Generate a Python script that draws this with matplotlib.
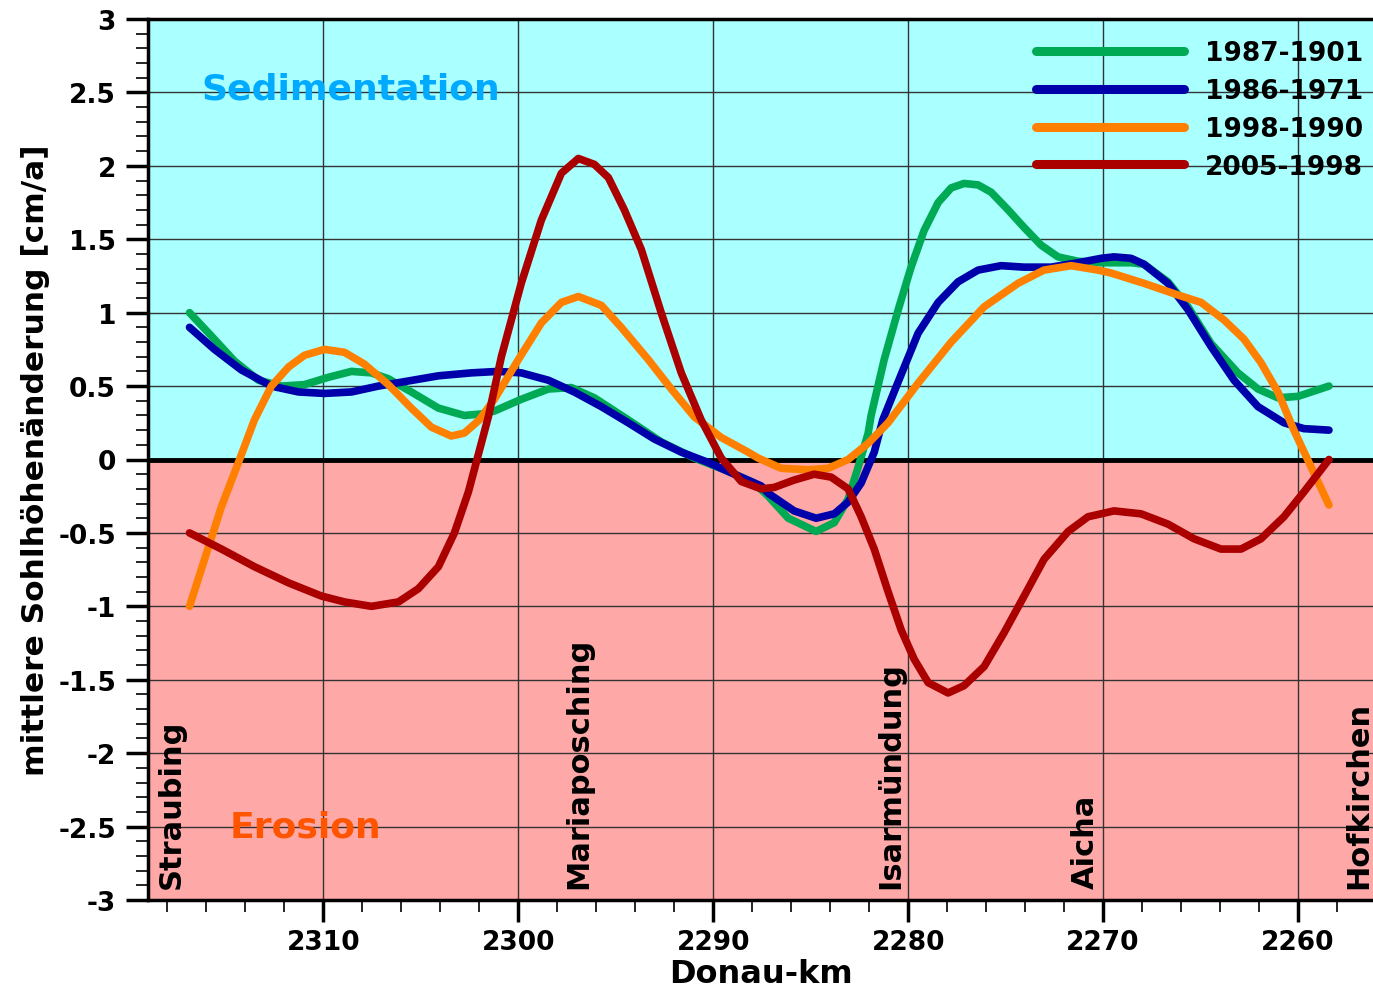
import matplotlib
matplotlib.use('Agg')
import matplotlib.pyplot as plt
from matplotlib.ticker import MultipleLocator, FormatStrFormatter

# Donau-km / mittlere Sohlhöhenänderung [cm/a]
km_g = [2316.87, 2315.74, 2314.56, 2313.33, 2312.15, 2310.97, 2309.74, 2308.56, 2307.54, 2306.67,
        2305.49, 2304.10, 2302.77, 2301.90, 2301.23, 2299.85, 2298.46, 2297.28, 2296.10, 2294.36,
        2292.67, 2290.97, 2289.23, 2287.90, 2287.18, 2286.15, 2284.72, 2283.79, 2283.08, 2282.56,
        2282.05, 2281.90, 2281.23, 2280.51, 2279.85, 2279.18, 2278.46, 2277.79, 2277.13, 2276.41,
        2275.74, 2274.87, 2274.05, 2273.18, 2272.31, 2271.28, 2270.10, 2268.56, 2267.90, 2266.67,
        2265.64, 2264.46, 2263.08, 2262.05, 2261.03, 2260.00, 2258.41]
v_g = [1.0, 0.84, 0.67, 0.54, 0.5, 0.51, 0.56, 0.6, 0.59, 0.55,
       0.46, 0.35, 0.30, 0.31, 0.33, 0.41, 0.48, 0.49, 0.42, 0.27,
       0.12, 0.01, -0.08, -0.16, -0.25, -0.4, -0.49, -0.43, -0.27, -0.05,
       0.18, 0.30, 0.68, 1.02, 1.31, 1.56, 1.75, 1.85, 1.88, 1.87,
       1.82, 1.70, 1.58, 1.46, 1.38, 1.35, 1.34, 1.34, 1.33, 1.21,
       1.04, 0.79, 0.59, 0.48, 0.42, 0.43, 0.5]

km_b = [2316.87, 2315.59, 2314.21, 2312.67, 2311.28, 2309.95, 2308.56, 2307.18, 2305.85, 2304.10,
        2302.41, 2301.03, 2299.85, 2298.46, 2297.13, 2295.74, 2294.36, 2293.03, 2291.64, 2290.26,
        2288.92, 2287.54, 2287.18, 2285.85, 2284.72, 2283.79, 2283.08, 2282.41, 2281.74, 2281.30,
        2280.60, 2279.49, 2278.46, 2277.44, 2276.41, 2275.23, 2274.05, 2272.67, 2271.28, 2270.10,
        2269.44, 2268.56, 2267.90, 2266.67, 2265.64, 2264.46, 2263.28, 2262.05, 2260.72, 2259.69,
        2258.41]
v_b = [0.9, 0.75, 0.61, 0.5, 0.46, 0.45, 0.46, 0.5, 0.53, 0.57,
       0.59, 0.6, 0.59, 0.54, 0.46, 0.36, 0.25, 0.14, 0.05, -0.02,
       -0.1, -0.18, -0.23, -0.35, -0.4, -0.37, -0.29, -0.16, 0.05, 0.27,
       0.5, 0.86, 1.07, 1.21, 1.29, 1.32, 1.31, 1.31, 1.34, 1.37,
       1.38, 1.37, 1.33, 1.2, 1.02, 0.77, 0.54, 0.36, 0.25, 0.21,
       0.2]

km_o = [2316.87, 2316.10, 2315.23, 2314.36, 2313.54, 2312.67, 2311.79, 2310.97, 2309.95, 2308.92,
        2307.90, 2306.67, 2305.49, 2304.46, 2303.44, 2302.77, 2302.00, 2301.23, 2300.00, 2298.82,
        2297.79, 2296.92, 2295.74, 2294.72, 2293.33, 2292.15, 2290.97, 2289.59, 2288.21, 2287.70,
        2286.51, 2285.13, 2284.10, 2283.08, 2282.05, 2281.03, 2279.49, 2277.79, 2276.10, 2274.36,
        2273.03, 2271.64, 2270.26, 2269.59, 2267.90, 2266.15, 2264.97, 2263.79, 2262.77, 2261.90,
        2261.03, 2260.21, 2259.33, 2258.41]
v_o = [-1.0, -0.68, -0.32, -0.02, 0.27, 0.5, 0.63, 0.71, 0.75, 0.73,
       0.65, 0.51, 0.35, 0.22, 0.16, 0.18, 0.27, 0.41, 0.68, 0.93,
       1.07, 1.11, 1.05, 0.9, 0.68, 0.48, 0.29, 0.15, 0.05, 0.01,
       -0.06, -0.07, -0.06, 0.0, 0.11, 0.25, 0.52, 0.8, 1.04, 1.2,
       1.29, 1.32, 1.29, 1.27, 1.2, 1.12, 1.07, 0.95, 0.82, 0.66,
       0.46, 0.2, -0.05, -0.31]

km_r = [2316.87, 2315.23, 2313.54, 2311.79, 2310.10, 2308.92, 2307.54, 2306.15, 2305.13, 2304.10,
        2303.28, 2302.56, 2302.00, 2301.54, 2300.87, 2299.85, 2298.82, 2297.79, 2296.92, 2296.10,
        2295.38, 2294.56, 2293.69, 2292.67, 2291.64, 2290.62, 2289.59, 2288.56, 2287.54, 2286.87,
        2285.85, 2284.82, 2283.95, 2283.08, 2282.41, 2281.74, 2281.03, 2280.36, 2279.69, 2278.97,
        2277.95, 2277.13, 2276.10, 2275.08, 2274.05, 2273.03, 2271.79, 2270.77, 2269.44, 2268.05,
        2266.67, 2265.33, 2263.95, 2262.92, 2261.90, 2260.72, 2259.69, 2258.41]
v_r = [-0.5, -0.61, -0.73, -0.84, -0.93, -0.97, -1.0, -0.97, -0.88, -0.73,
       -0.5, -0.22, 0.06, 0.29, 0.7, 1.2, 1.63, 1.95, 2.05, 2.01,
       1.92, 1.7, 1.43, 1.0, 0.59, 0.27, 0.01, -0.15, -0.2, -0.19,
       -0.14, -0.1, -0.12, -0.2, -0.39, -0.61, -0.9, -1.16, -1.36, -1.52,
       -1.59, -1.54, -1.41, -1.18, -0.93, -0.68, -0.49, -0.39, -0.35, -0.37,
       -0.44, -0.54, -0.61, -0.61, -0.54, -0.39, -0.22, 0.0]

serien = [
    ('1987-1901', km_g, v_g, '#00AA55'),
    ('1986-1971', km_b, v_b, '#0000AA'),
    ('1998-1990', km_o, v_o, '#FF8000'),
    ('2005-1998', km_r, v_r, '#AA0000'),
]

orte = ['Straubing', 'Mariaposching', 'Isarmündung', 'Aicha', 'Hofkirchen']
orte_km = [2317.8, 2296.9, 2280.9, 2270.9, 2256.9]

plt.rcParams['font.family'] = 'DejaVu Sans'
plt.rcParams['font.weight'] = 'bold'

fig = plt.figure(figsize=(13.73, 9.95), dpi=100)
ax = fig.add_axes([148/1373, 1-901/995, 1-148/1373, 881/995])

ax.axhspan(0, 3, color='#AAFFFF', zorder=0, lw=0)
ax.axhspan(-3, 0, color='#FFA8A8', zorder=0, lw=0)
ax.grid(True, which='major', color='#333333', lw=1.0, zorder=1)
ax.set_axisbelow(True)
ax.axhline(0, color='black', lw=3.5, zorder=2)

for name, x, y, c in serien:
    ax.plot(x, y, color=c, lw=5.5, label=name, zorder=3,
            solid_capstyle='round', solid_joinstyle='round')

ax.set_xlim(2319, 2256.15)
ax.set_ylim(-3, 3)
ax.xaxis.set_major_locator(MultipleLocator(10))
ax.xaxis.set_minor_locator(MultipleLocator(2))
ax.yaxis.set_major_locator(MultipleLocator(0.5))
ax.yaxis.set_minor_locator(MultipleLocator(0.1))
ax.yaxis.set_major_formatter(FormatStrFormatter('%g'))
ax.xaxis.set_major_formatter(FormatStrFormatter('%d'))

ax.tick_params(which='major', direction='out', length=16, width=2.5, labelsize=19, pad=5)
ax.tick_params(which='minor', direction='out', length=8.5, width=1.2)
ax.tick_params(axis='y', which='major', pad=7)

for s in ['left', 'bottom', 'top']:
    ax.spines[s].set_linewidth(2.5)
ax.spines['right'].set_visible(False)

ax.set_xlabel('Donau-km', fontsize=23, fontweight='bold')
ax.xaxis.set_label_coords(0.5, -0.066)
ax.set_ylabel('mittlere Sohlhöhenänderung [cm/a]', fontsize=22.5, fontweight='bold')
ax.yaxis.set_label_coords(-0.08, 0.5)

ax.text(2316.26, 2.53, 'Sedimentation', color='#00AAFF', fontsize=26,
        fontweight='bold', va='center', ha='left', zorder=4)
ax.text(2314.82, -2.5, 'Erosion', color='#FF5500', fontsize=26,
        fontweight='bold', va='center', ha='left', zorder=4)

for name, k in zip(orte, orte_km):
    ax.text(k, -2.92, name, rotation=90, ha='center', va='bottom',
            fontsize=22, fontweight='bold', zorder=4)

leg = ax.legend(loc='upper right', bbox_to_anchor=(1363/1373, 1-41/995),
                bbox_transform=fig.transFigure, frameon=False, fontsize=19,
                handlelength=5.6, handletextpad=0.8, labelspacing=0.45,
                borderpad=0, borderaxespad=0)
for line in leg.get_lines():
    line.set_linewidth(6.5)
    line.set_solid_capstyle('round')

fig.savefig('out.png', dpi=100)
